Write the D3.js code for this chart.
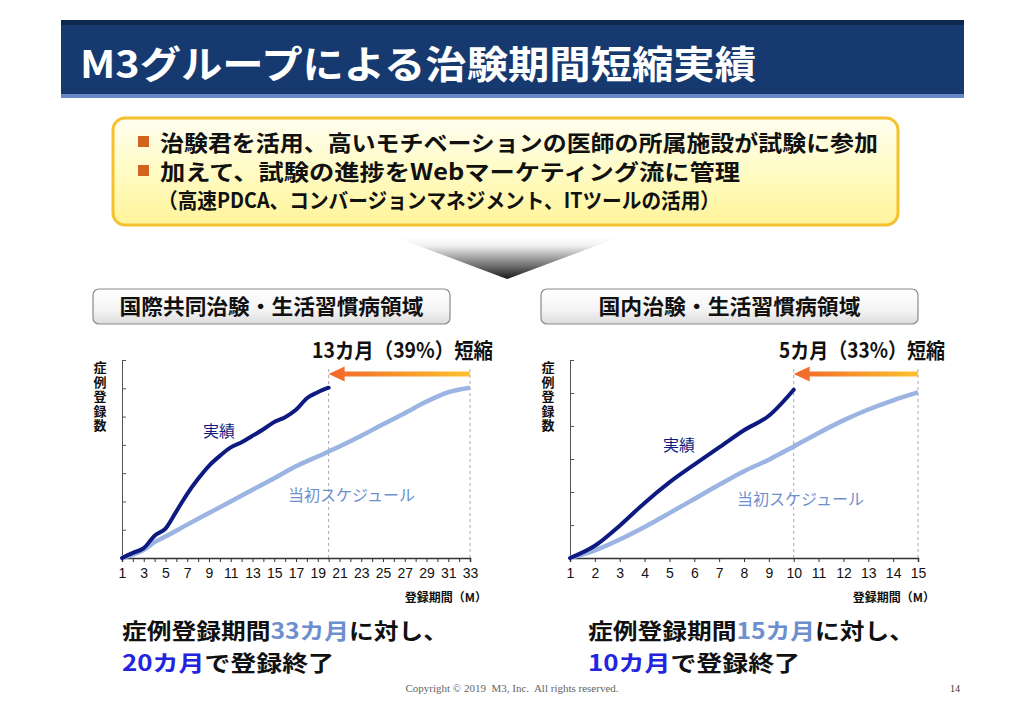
<!doctype html>
<html lang="ja">
<head>
<meta charset="utf-8">
<title>M3グループによる治験期間短縮実績</title>
<script src="https://cdn.jsdelivr.net/npm/d3@7"></script>
<style>
  body { margin: 0; background: #fff; }
  svg { display: block; font-family: "Noto Sans CJK JP", "Noto Sans", sans-serif; }
  .tick text { font-family: "Liberation Sans", Arial, sans-serif; }
</style>
</head>
<body>
<script>
// ---- data ----
var titleText = "M3グループによる治験期間短縮実績";
var bullets = ["治験君を活用、高いモチベーションの医師の所属施設が試験に参加",
               "加えて、試験の進捗をWebマーケティング流に管理"];
var bulletSub = "（高速PDCA、コンバージョンマネジメント、ITツールの活用）";

// left chart: 国際共同治験
var leftMonths   = d3.range(1, 34);
var leftActualX  = [1,2,3,4,5,6,7,8,9,10,11,12,13,14,15,16,17,18,19,20];
var leftActual   = [0,0.18,0.35,0.79,1.04,1.65,2.27,2.8,3.26,3.61,3.91,4.09,4.32,4.55,4.81,4.98,5.24,5.65,5.86,6.02];
var leftPlanX    = [1,3,4,5,7,9,11,13,15,17,19,21,23,25,27,29,31,33];
var leftPlan     = [0,0.29,0.56,0.76,1.18,1.59,2.0,2.41,2.82,3.24,3.59,3.94,4.32,4.73,5.12,5.53,5.86,6.02];

// right chart: 国内治験
var rightMonths  = d3.range(1, 16);
var rightActualX = [1,2,3,4,5,6,7,8,9,10];
var rightActual  = [0,0.37,0.98,1.67,2.29,2.83,3.35,3.87,4.31,5.1];
var rightPlanX   = [1,2,3,4,5,6,7,8,9,10,11,12,13,14,15];
var rightPlan    = [0,0.23,0.56,0.94,1.36,1.79,2.22,2.63,2.98,3.38,3.79,4.17,4.5,4.78,5.02];

var W = 1024, H = 714;
var navy = "#0d1a80", planBlue = "#9bb4e2", labelBlue = "#6e8fce", brightBlue = "#2323e0";

var svg = d3.select("body").append("svg").attr("width", W).attr("height", H);
var defs = svg.append("defs");

function vGrad(id, stops) {
  var g = defs.append("linearGradient").attr("id", id)
    .attr("x1", 0).attr("y1", 0).attr("x2", 0).attr("y2", 1);
  stops.forEach(s => g.append("stop").attr("offset", s[0]).attr("stop-color", s[1]));
}
vGrad("yellowBox", [[0, "#fffef0"], [0.5, "#fffbc4"], [1, "#fff49a"]]);
vGrad("headBox", [[0, "#ffffff"], [0.6, "#f4f4f4"], [1, "#dcdcdc"]]);
vGrad("chevron", [[0, "#ffffff"], [0.2, "#f2f2f2"], [1, "#1a1a1a"]]);
var ag = defs.append("linearGradient").attr("id", "arrowGrad")
  .attr("x1", 0).attr("y1", 0).attr("x2", 1).attr("y2", 0);
ag.append("stop").attr("offset", 0).attr("stop-color", "#f2662a");
ag.append("stop").attr("offset", 1).attr("stop-color", "#fcc22f");

// ---- title bar ----
svg.append("rect").attr("x", 61).attr("y", 20).attr("width", 903).attr("height", 78).attr("fill", "#163a70");
svg.append("rect").attr("x", 61).attr("y", 20).attr("width", 903).attr("height", 5).attr("fill", "#0d274f");
svg.append("rect").attr("x", 61).attr("y", 94).attr("width", 903).attr("height", 4).attr("fill", "#6788c4");
svg.append("text").attr("x", 80).attr("y", 78)
  .attr("fill", "#fff").attr("font-size", 38).attr("font-weight", "bold")
  .attr("textLength", 676).attr("lengthAdjust", "spacingAndGlyphs")
  .text(titleText);

// ---- yellow box ----
svg.append("rect").attr("x", 113).attr("y", 118).attr("width", 785).attr("height", 107).attr("rx", 12)
  .attr("fill", "url(#yellowBox)").attr("stroke", "#f6c12e").attr("stroke-width", 3);
var bulletY = [151, 180];
var bulletW = [718, 580];
bullets.forEach(function(b, i) {
  svg.append("rect").attr("x", 138).attr("y", bulletY[i] - 15).attr("width", 11).attr("height", 11).attr("fill", "#d2641f");
  svg.append("text").attr("x", 160).attr("y", bulletY[i]).attr("font-size", 22).attr("font-weight", "bold")
    .attr("fill", "#111").attr("textLength", bulletW[i]).attr("lengthAdjust", "spacingAndGlyphs").text(b);
});
svg.append("text").attr("x", 158).attr("y", 208).attr("font-size", 21).attr("font-weight", "bold")
  .attr("fill", "#111").attr("textLength", 562).attr("lengthAdjust", "spacingAndGlyphs").text(bulletSub);

// ---- chevron ----
svg.append("path").attr("d", "M395,237 L620,237 L507,279 Z").attr("fill", "url(#chevron)");

// ---- charts ----
function drawChart(o) {
  var x = d3.scaleLinear().domain([1, o.months[o.months.length - 1]]).range([o.x0, o.x1]);
  var y = d3.scaleLinear().domain([0, o.yMax]).range([558, 360]);

  // header box
  svg.append("rect").attr("x", o.boxX).attr("y", 289).attr("width", o.boxW).attr("height", 35).attr("rx", 6)
    .attr("fill", "url(#headBox)").attr("stroke", "#8a8a8a").attr("stroke-width", 1.2);
  svg.append("text").attr("x", o.boxX + o.boxW / 2).attr("y", 314).attr("text-anchor", "middle")
    .attr("font-size", 21).attr("font-weight", "bold").attr("fill", "#111")
    .attr("textLength", o.headW).attr("lengthAdjust", "spacingAndGlyphs").text(o.head);

  // y label, vertical
  svg.append("text").attr("x", o.x0 - 22).attr("y", 361)
    .attr("writing-mode", "vertical-rl").style("letter-spacing", "1.5px")
    .attr("font-size", 13).attr("font-weight", "bold").attr("fill", "#111").text("症例登録数");

  // dashed guides
  [o.actualEnd, o.months[o.months.length - 1]].forEach(function(m) {
    svg.append("line").attr("x1", x(m)).attr("x2", x(m)).attr("y1", 558).attr("y2", 366)
      .attr("stroke", "#aaa").attr("stroke-width", 1).attr("stroke-dasharray", "3,3");
  });

  // axes
  var xAxis = d3.axisBottom(x).tickValues(o.months).tickSize(4)
    .tickFormat(d => (o.labelStep === 1 || d % 2 === 1) ? d : "");
  var gx = svg.append("g").attr("transform", "translate(0,558)").call(xAxis);
  gx.select(".domain").attr("stroke", "#333").attr("stroke-width", 1.5);
  gx.selectAll(".tick line").attr("stroke", "#333");
  gx.selectAll(".tick text").attr("font-size", 14).attr("fill", "#111").attr("dy", "0.9em");

  var yAxis = d3.axisLeft(y).ticks(o.yMax).tickSize(-4).tickSizeOuter(-4).tickFormat("");
  var gy = svg.append("g").attr("transform", "translate(" + o.x0 + ",0)").call(yAxis);
  gy.select(".domain").attr("stroke", "#555");
  gy.selectAll(".tick line").attr("stroke", "#555");

  // lines
  var line = d3.line().x(d => x(d[0])).y(d => y(d[1])).curve(d3.curveMonotoneX);
  svg.append("path").datum(d3.zip(o.planX, o.plan)).attr("d", line)
    .attr("fill", "none").attr("stroke", planBlue).attr("stroke-width", 4.5);
  svg.append("path").datum(d3.zip(o.actualX, o.actual)).attr("d", line)
    .attr("fill", "none").attr("stroke", navy).attr("stroke-width", 4).attr("stroke-linecap", "round");

  // arrow
  var ax0 = x(o.actualEnd), ax1 = x(o.months[o.months.length - 1]), ay = 374;
  svg.append("path")
    .attr("d", "M" + ax0 + "," + ay + " L" + (ax0 + 16) + "," + (ay - 7.5) + " L" + (ax0 + 16) + "," + (ay - 2.5) +
               " L" + ax1 + "," + (ay - 2.5) + " L" + ax1 + "," + (ay + 2.5) + " L" + (ax0 + 16) + "," + (ay + 2.5) +
               " L" + (ax0 + 16) + "," + (ay + 7.5) + " Z")
    .attr("fill", "url(#arrowGrad)");

  svg.append("text").attr("x", o.annX - o.annW).attr("y", 358)
    .attr("font-size", 21).attr("font-weight", "bold").attr("fill", "#111")
    .attr("textLength", o.annW).attr("lengthAdjust", "spacingAndGlyphs").text(o.ann);

  svg.append("text").attr("x", o.actLab[0]).attr("y", o.actLab[1]).attr("font-size", 16).attr("fill", navy).text("実績");
  svg.append("text").attr("x", o.planLab[0]).attr("y", o.planLab[1]).attr("font-size", 16).attr("fill", labelBlue).text("当初スケジュール");

  svg.append("text").attr("x", o.x1 + 17).attr("y", 602).attr("text-anchor", "end")
    .attr("font-size", 12).attr("font-weight", "bold").attr("fill", "#111").text("登録期間（M）");

  // summary
  var s1 = svg.append("text").attr("x", o.sumX).attr("y", 639).attr("font-size", 22).attr("font-weight", "bold").attr("fill", "#111")
    .attr("textLength", 326).attr("lengthAdjust", "spacingAndGlyphs");
  s1.append("tspan").text("症例登録期間");
  s1.append("tspan").attr("fill", labelBlue).text(o.planLen + "カ月");
  s1.append("tspan").text("に対し、");
  var s2 = svg.append("text").attr("x", o.sumX).attr("y", 671).attr("font-size", 22).attr("font-weight", "bold").attr("fill", "#111")
    .attr("textLength", 212).attr("lengthAdjust", "spacingAndGlyphs");
  s2.append("tspan").attr("fill", brightBlue).text(o.actLen + "カ月");
  s2.append("tspan").text("で登録終了");
}

drawChart({
  months: leftMonths, actualX: leftActualX, actual: leftActual, planX: leftPlanX, plan: leftPlan,
  x0: 122, x1: 470, yMax: 7, actualEnd: 20, labelStep: 2,
  boxX: 93, boxW: 357, head: "国際共同治験・生活習慣病領域", headW: 304,
  ann: "13カ月（39%）短縮", annX: 493, annW: 181, actLab: [203, 437], planLab: [288, 501],
  sumX: 122, planLen: 33, actLen: 20
});
drawChart({
  months: rightMonths, actualX: rightActualX, actual: rightActual, planX: rightPlanX, plan: rightPlan,
  x0: 570, x1: 918, yMax: 6, actualEnd: 10, labelStep: 1,
  boxX: 541, boxW: 377, head: "国内治験・生活習慣病領域", headW: 262,
  ann: "5カ月（33%）短縮", annX: 945, annW: 166, actLab: [663, 451], planLab: [737, 505],
  sumX: 588, planLen: 15, actLen: 10
});

// footer
svg.append("text").attr("x", 512).attr("y", 692).attr("text-anchor", "middle")
  .attr("font-family", "Liberation Serif, serif").attr("font-size", 11).attr("fill", "#666")
  .attr("xml:space", "preserve").text("Copyright © 2019  M3, Inc.  All rights reserved.");
svg.append("text").attr("x", 955).attr("y", 692).attr("text-anchor", "middle")
  .attr("font-family", "Liberation Serif, serif").attr("font-size", 10).attr("fill", "#333").text("14");
</script>
</body>
</html>
